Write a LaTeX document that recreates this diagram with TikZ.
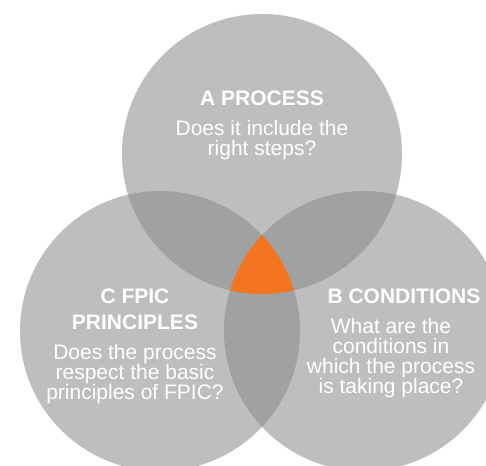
\documentclass[tikz,border=0pt]{standalone}
\usepackage{fontspec}
\setmainfont{Liberation Sans}
\definecolor{vennlight}{HTML}{BDBEC0}
\definecolor{venndark}{HTML}{A0A1A3}
\definecolor{vennorange}{HTML}{F37421}
\tikzset{
  head/.style={text=white,font=\fontsize{21}{26}\selectfont\bfseries,align=center,inner sep=0pt,anchor=base},
  body/.style={text=white,font=\fontsize{21}{20}\selectfont,align=center,inner sep=0pt,anchor=base}
}

\begin{document}
\begin{tikzpicture}[x=1pt,y=-1pt]
            \useasboundingbox (0,0) rectangle (486,465);
            \fill[white] (0,0) rectangle (486,465);
            \clip (0,0) rectangle (486,465);
            \def\r{140pt}
            \coordinate (A) at (262,154);
            \coordinate (B) at (364,331);
            \coordinate (C) at (160,331);
            \foreach \c in {A,B,C}{
                \fill[vennlight] (\c) circle (\r);
            }
            % overlaps of two
            \begin{scope}
                \clip (A) circle (\r);
                \fill[venndark] (B) circle (\r);
                \fill[venndark] (C) circle (\r);
            \end{scope}
            \begin{scope}
                \clip (B) circle (\r);
                \fill[venndark] (C) circle (\r);
            \end{scope}
            % overlap of all three
            \begin{scope}
                \clip (A) circle (\r);
                \clip (B) circle (\r);
                \fill[vennorange] (C) circle (\r);
            \end{scope}
            % texts, placed at the baseline of their last line
            \node[head] (Ahead) at (262,106) {A PROCESS};
            \node[body] (Abody) at (262,155) {Does it include the\\right steps?};
            \node[head] (Bhead) at (404,303) {B CONDITIONS};
            \node[body] (Bbody) at (391,393) {What are the\\conditions in\\which the process\\is taking place?};
            \node[head] (Chead) at (135,329) {C FPIC\\PRINCIPLES};
            \node[body] (Cbody) at (135,399) {Does the process\\respect the basic\\principles of FPIC?};
        \end{tikzpicture}
\end{document}
